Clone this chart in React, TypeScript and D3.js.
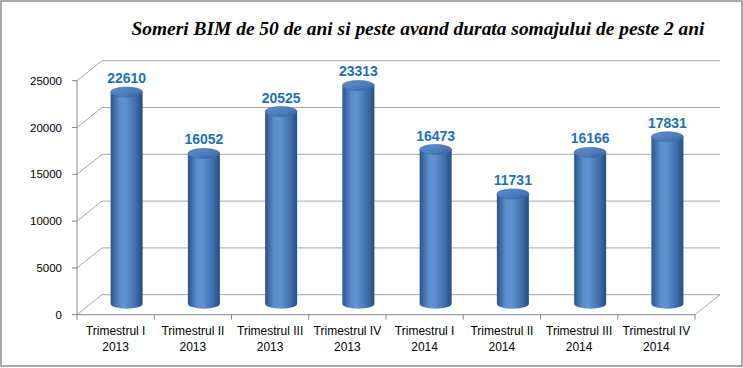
import React from "react";
import * as d3 from "d3";

const categories = [
  ["Trimestrul I", "2013"],
  ["Trimestrul II", "2013"],
  ["Trimestrul III", "2013"],
  ["Trimestrul IV", "2013"],
  ["Trimestrul I", "2014"],
  ["Trimestrul II", "2014"],
  ["Trimestrul III", "2014"],
  ["Trimestrul IV", "2014"],
];
const values = [22610, 16052, 20525, 23313, 16473, 11731, 16166, 17831];
const yTicks = [0, 5000, 10000, 15000, 20000, 25000];
const title = "Someri BIM de 50 de ani si peste avand durata somajului de peste 2 ani";

const W = 743;
const H = 368;
const x0 = 77;
const x1 = 695;
const depthX = 25;
const depthY = -20;
const barDX = 11;
const barDY = -11;
const rx = 16;
const ry = 5;

export default function App() {
  const y = d3.scaleLinear().domain([0, 25000]).range([314.7, 80.7]);
  const xb = d3
    .scaleBand<number>()
    .domain(d3.range(categories.length))
    .range([x0, x1])
    .paddingInner(0)
    .paddingOuter(0);
  const bw = xb.bandwidth();
  const grid = "#a6a6a6";
  const axis = "#868686";
  const font = "'Liberation Sans', Arial, sans-serif";

  return (
    <svg
      width={W}
      height={H}
      style={{ position: "absolute", left: 0, top: 0 }}
      viewBox={`0 0 ${W} ${H}`}
    >
      <defs>
        <linearGradient id="cyl" x1="0" x2="1" y1="0" y2="0">
          <stop offset="0" stopColor="#2b548a" />
          <stop offset="0.28" stopColor="#5b8dce" />
          <stop offset="0.45" stopColor="#6193d3" />
          <stop offset="0.8" stopColor="#3d6ca8" />
          <stop offset="1" stopColor="#264c7e" />
        </linearGradient>
        <linearGradient id="cap" x1="0" x2="1" y1="0" y2="1">
          <stop offset="0" stopColor="#5f8ecb" />
          <stop offset="0.6" stopColor="#4b7bbb" />
          <stop offset="1" stopColor="#2f5b94" />
        </linearGradient>
      </defs>
      <rect x={0} y={0} width={W} height={H} fill="#ffffff" />
      <rect x={1} y={1} width={741} height={365} fill="none" stroke="#8c8c8c" strokeWidth={1.5} />

      <text
        x={418}
        y={35}
        textAnchor="middle"
        fontFamily="'Liberation Serif', 'Times New Roman', serif"
        fontStyle="italic"
        fontWeight="bold"
        fontSize={18}
        textLength={573}
        lengthAdjust="spacingAndGlyphs"
        fill="#000"
      >
        {title}
      </text>

      {yTicks.map((t) => (
        <g key={"g" + t}>
          <line
            x1={x0}
            y1={y(t)}
            x2={x0 + depthX}
            y2={y(t) + depthY}
            stroke={grid}
            strokeWidth={1}
          />
          <line
            x1={x0 + depthX}
            y1={y(t) + depthY}
            x2={x1 + depthX}
            y2={y(t) + depthY}
            stroke={grid}
            strokeWidth={1}
          />
        </g>
      ))}
      <line
        x1={x1}
        y1={y(0)}
        x2={x1 + depthX}
        y2={y(0) + depthY}
        stroke={grid}
        strokeWidth={1}
      />

      <line x1={x0} y1={y(25000)} x2={x0} y2={y(0)} stroke={axis} strokeWidth={1} />
      {yTicks.map((t) => (
        <g key={"t" + t}>
          <line x1={x0 - 5} y1={y(t)} x2={x0} y2={y(t)} stroke={axis} strokeWidth={1} />
          <text
            x={62}
            y={y(t)}
            dy="0.35em"
            textAnchor="end"
            fontFamily={font}
            fontSize={11.5}
            fill="#000"
          >
            {t}
          </text>
        </g>
      ))}

      <line x1={x0} y1={y(0)} x2={x1} y2={y(0)} stroke={axis} strokeWidth={1} />
      {d3.range(categories.length + 1).map((i) => {
        const xx = x0 + i * bw;
        return (
          <line key={"xt" + i} x1={xx} y1={y(0)} x2={xx} y2={y(0) + 5} stroke={axis} strokeWidth={1} />
        );
      })}
      {categories.map((c, i) => {
        const cx = (xb(i) as number) + bw / 2;
        return (
          <text key={"c" + i} textAnchor="middle" fontFamily={font} fontSize={12} fill="#000">
            <tspan x={cx} y={335}>
              {c[0]}
            </tspan>
            <tspan x={cx} y={351}>
              {c[1]}
            </tspan>
          </text>
        );
      })}

      {values.map((v, i) => {
        const cx = (xb(i) as number) + bw / 2 + barDX;
        const yb = y(0) + barDY;
        const yt = y(v) + barDY;
        const d = `M${cx - rx},${yt} L${cx - rx},${yb} A${rx},${ry} 0 0 0 ${cx + rx},${yb} L${cx + rx},${yt} Z`;
        return (
          <g key={"b" + i}>
            <path d={d} fill="url(#cyl)" />
            <ellipse cx={cx} cy={yt} rx={rx} ry={ry} fill="url(#cap)" stroke="#3d6aa6" strokeWidth={0.6} />
            <text
              x={cx}
              y={yt - ry - 4}
              textAnchor="middle"
              fontFamily={font}
              fontWeight="bold"
              fontSize={14}
              fill="#1f70b8"
            >
              {v}
            </text>
          </g>
        );
      })}
    </svg>
  );
}
